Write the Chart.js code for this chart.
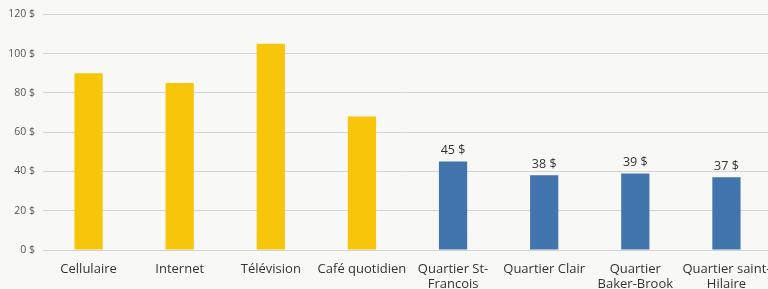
<!DOCTYPE html>
<html>
<head>
<meta charset="utf-8">
<script src="https://cdn.jsdelivr.net/npm/chart.js@4"></script>
<style>
  html, body { margin: 0; padding: 0; background: #f8f8f6; overflow: hidden; }
  #wrap { width: 775px; height: 289px; }
</style>
</head>
<body>
<div id="wrap"><canvas id="barChart"></canvas></div>
<script>
const categories = [
  "Cellulaire", "Internet", "Télévision", "Café quotidien",
  ["Quartier St-", "Francois"], "Quartier Clair",
  ["Quartier", "Baker-Brook"], ["Quartier saint-", "Hilaire"]
];
const depenses = [90, 85, 105, 68, null, null, null, null];
const quartiers = [null, null, null, null, 45, 38, 39, 37];
const yTicks = [0, 20, 40, 60, 80, 100, 120];

// étiquettes au-dessus des barres bleues
const valueLabels = {
  id: "valueLabels",
  afterDatasetsDraw(chart) {
    const ctx = chart.ctx;
    const meta = chart.getDatasetMeta(1);
    ctx.save();
    ctx.font = "12.5px 'Open Sans'";
    ctx.fillStyle = "#333";
    ctx.textAlign = "center";
    ctx.textBaseline = "bottom";
    meta.data.forEach((bar, i) => {
      const v = quartiers[i];
      if (v == null) return;
      ctx.fillText(v + " $", bar.x, bar.y - 5);
    });
    ctx.restore();
  },
};

const barChart = document.querySelector("#barChart");
const graph = new Chart(barChart, {
  type: "bar",
  data: {
    labels: categories,
    datasets: [
      {
        data: depenses,
        backgroundColor: "#f7c509",
        grouped: false,
        barPercentage: 0.31,
        categoryPercentage: 1,
      },
      {
        data: quartiers,
        backgroundColor: "#4275ad",
        grouped: false,
        barPercentage: 0.31,
        categoryPercentage: 1,
      },
    ],
  },
  options: {
    responsive: true,
    maintainAspectRatio: false,
    animation: false,
    layout: { padding: { top: 12, right: 3, left: 0, bottom: 0 } },
    plugins: {
      legend: { display: false },
      tooltip: { enabled: false },
    },
    scales: {
      x: {
        grid: { display: false },
        border: { display: false },
        ticks: {
          color: "#333",
          font: { family: "'Open Sans'", size: 13 },
          padding: 3,
          maxRotation: 0,
          autoSkip: false,
        },
        afterFit(scale) { scale.height = 39; },
      },
      y: {
        min: 0,
        max: 120,
        afterBuildTicks(scale) { scale.ticks = yTicks.map((v) => ({ value: v })); },
        grid: { color: "#d4d4d4", drawTicks: false },
        border: { display: false },
        ticks: {
          color: "#555",
          font: { family: "'Open Sans'", size: 10.5 },
          padding: 8,
          callback: (v) => v + " $",
        },
        afterFit(scale) { scale.width = 43; },
      },
    },
  },
  plugins: [valueLabels],
});
</script>
</body>
</html>
